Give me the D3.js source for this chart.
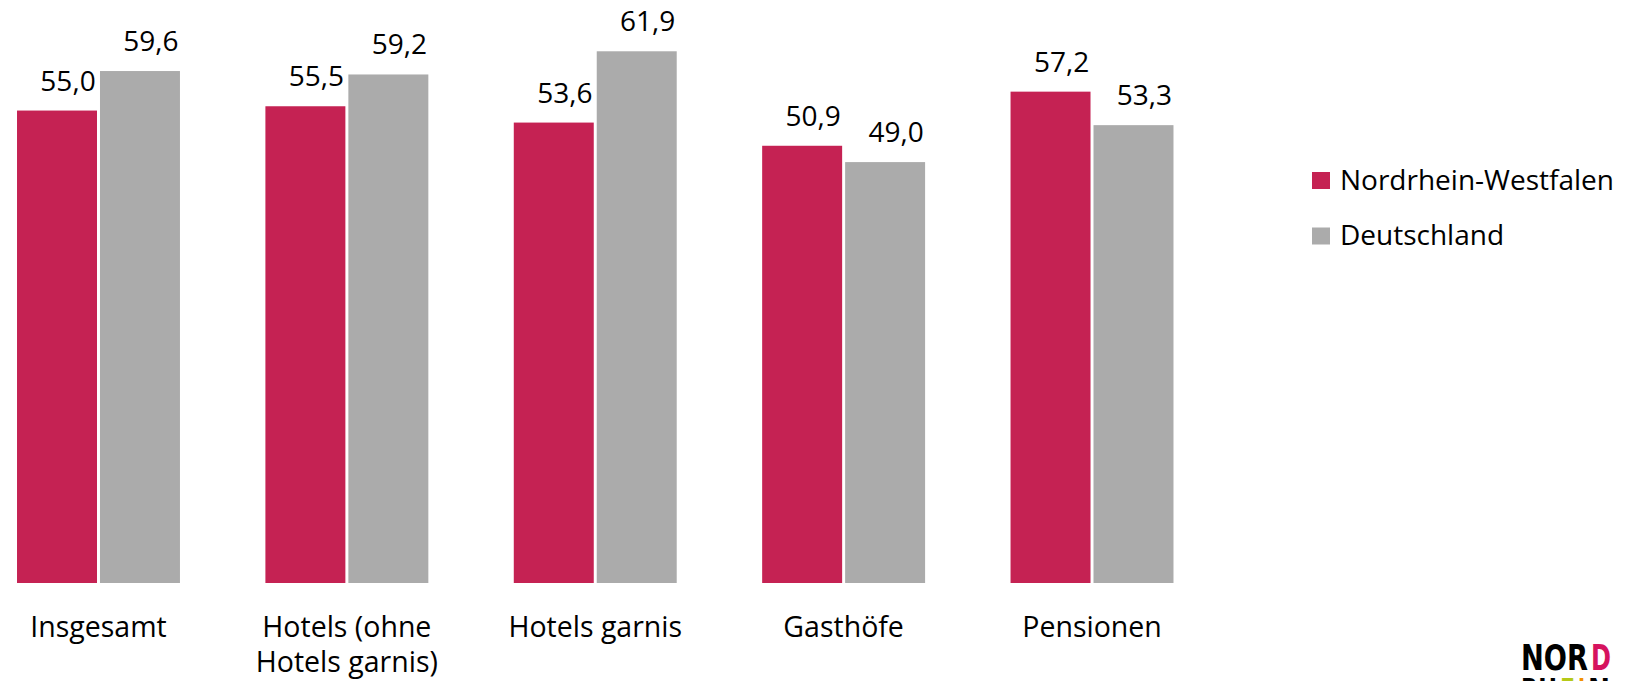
<!DOCTYPE html>
<html>
<head>
<meta charset="utf-8">
<script src="https://cdn.jsdelivr.net/npm/d3@7"></script>
<style>
  body { margin: 0; background: #fff; }
  svg text { font-family: "Open Sans", sans-serif; fill: #000; }
</style>
</head>
<body>
<script>
// kategorien und werte
const categories = ["Insgesamt", "Hotels (ohne|Hotels garnis)", "Hotels garnis", "Gasthöfe", "Pensionen"];
const series = ["Nordrhein-Westfalen", "Deutschland"];
const nrw = [55.0, 55.5, 53.6, 50.9, 57.2];
const deutschland = [59.6, 59.2, 61.9, 49.0, 53.3];
const colors = ["#C52253", "#ABABAB"];

const W = 1640, H = 681;
const svg = d3.select("body").append("svg")
  .attr("width", W)
  .attr("height", H);

const x = d3.scaleBand()
  .domain(categories)
  .range([-25.7, 1216.2])
  .paddingInner(0.344)
  .paddingOuter(0.172);

const xs = d3.scaleBand()
  .domain(series)
  .range([0, x.bandwidth()])
  .paddingInner(0.036);

const y = d3.scaleLinear()
  .domain([0, 70])
  .range([583, 583 - 70 * 8.59]);

const fmt = v => d3.format(".1f")(v).replace(".", ",");

const rows = categories.map((c, i) => ({cat: c, vals: [nrw[i], deutschland[i]]}));

const g = svg.selectAll("g.grp")
  .data(rows)
  .enter().append("g")
  .attr("class", "grp")
  .attr("transform", d => `translate(${x(d.cat)},0)`);

g.selectAll("rect")
  .data(d => d.vals.map((v, k) => ({s: series[k], v: v, k: k})))
  .enter().append("rect")
  .attr("x", d => xs(d.s))
  .attr("y", d => y(d.v))
  .attr("width", xs.bandwidth())
  .attr("height", d => y(0) - y(d.v))
  .style("fill", d => colors[d.k]);

g.selectAll("text.val")
  .data(d => d.vals.map((v, k) => ({s: series[k], v: v})))
  .enter().append("text")
  .attr("class", "val")
  .attr("x", d => xs(d.s) + xs.bandwidth() / 2 + 11)
  .attr("y", d => y(d.v) - 20)
  .attr("text-anchor", "middle")
  .style("font-size", "28px")
  .text(d => fmt(d.v));

// x labels
const xl = svg.selectAll("text.cat")
  .data(categories)
  .enter().append("text")
  .attr("class", "cat")
  .attr("x", d => x(d) + x.bandwidth() / 2)
  .attr("y", 637)
  .attr("text-anchor", "middle")
  .style("font-size", "28.5px");

xl.selectAll("tspan")
  .data(d => d.split("|"))
  .enter().append("tspan")
  .attr("x", function() { return d3.select(this.parentNode).attr("x"); })
  .attr("dy", (d, i) => i === 0 ? 0 : 35)
  .text(d => d);

// legende
const leg = svg.selectAll("g.leg")
  .data(series)
  .enter().append("g")
  .attr("class", "leg")
  .attr("transform", (d, i) => `translate(1312,${172 + i * 55.5})`);

leg.append("rect")
  .attr("width", 18)
  .attr("height", 17)
  .style("fill", (d, i) => colors[i]);

leg.append("text")
  .attr("x", 28)
  .attr("y", 17.5)
  .style("font-size", "28px")
  .text(d => d);

// logo unten rechts (unten abgeschnitten wie im original)
const logoFont = "'Liberation Sans Narrow', 'DejaVu Sans Condensed', sans-serif";
function logoText(txt, x0, y0, len, fill) {
  svg.append("text")
    .attr("x", x0)
    .attr("y", y0)
    .attr("textLength", len)
    .attr("lengthAdjust", "spacingAndGlyphs")
    .style("font-family", logoFont)
    .style("font-weight", "bold")
    .style("font-size", "36px")
    .style("fill", fill)
    .text(txt);
}
logoText("NOR", 1521, 670, 67, "#000");
logoText("D", 1591, 670, 20, "#D6135F");
logoText("RH", 1521, 704, 36, "#000");
logoText("E", 1560, 704, 15, "#B5C918");
logoText("I", 1578, 704, 7, "#F29100");
logoText("N", 1588, 704, 22, "#000");
</script>
</body>
</html>
